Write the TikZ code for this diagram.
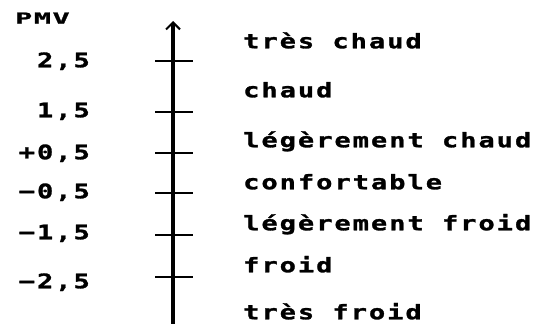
\documentclass[tikz,border=0pt]{standalone}
\usepackage{fontspec}
\newfontfamily\pmvfont[FakeStretch=1.35,LetterSpace=10,FakeBold=1.4]{DejaVu Sans Mono}
\newfontfamily\pmvhead[FakeStretch=1.9,LetterSpace=10,FakeBold=1.6]{DejaVu Sans Mono}
\usetikzlibrary{arrows.meta}
\begin{document}
\begin{tikzpicture}[x=1pt,y=-1pt,
  lbl/.style={inner sep=0pt,font=\pmvfont\bfseries\fontsize{20}{20}\selectfont,text height=14.5pt,text depth=0pt},
  val/.style={lbl,anchor=east},
  cat/.style={lbl,anchor=west},
  tick/.style={line width=1.6pt},
  axis/.style={line width=3.2pt,-{Straight Barb[length=7pt,width=14pt,line width=2pt]}}]
\useasboundingbox (0,0) rectangle (541,324);
\coordinate (bot) at (173,326);
\coordinate (top) at (173,21);
\draw[axis] (bot) -- (top);
\foreach \n/\y in {t1/61,t2/112,t3/153,t4/193,t5/235,t6/277}{
  \coordinate (\n L) at (155,\y);
  \coordinate (\n R) at (193,\y);
  \draw[tick] (\n L) -- (\n R);
}
\node[inner sep=0pt,anchor=west,font=\pmvhead\bfseries\fontsize{15}{15}\selectfont,text height=11pt,text depth=0pt] (pmv) at (15,18) {PMV};
\node[val] (v1) at (90,60) {2,5};
\node[val] (v2) at (90,110) {1,5};
\node[val] (v3) at (90,152) {+0,5};
\node[val] (v4) at (90,191) {−0,5};
\node[val] (v5) at (90,232) {−1,5};
\node[val] (v6) at (90,281) {−2,5};
\node[cat] (c1) at (243,41) {très chaud};
\node[cat] (c2) at (243,90) {chaud};
\node[cat] (c3) at (243,140) {légèrement chaud};
\node[cat] (c4) at (243,182) {confortable};
\node[cat] (c5) at (243,223) {légèrement froid};
\node[cat] (c6) at (243,265) {froid};
\node[cat] (c7) at (243,312) {très froid};
\end{tikzpicture}
\end{document}
